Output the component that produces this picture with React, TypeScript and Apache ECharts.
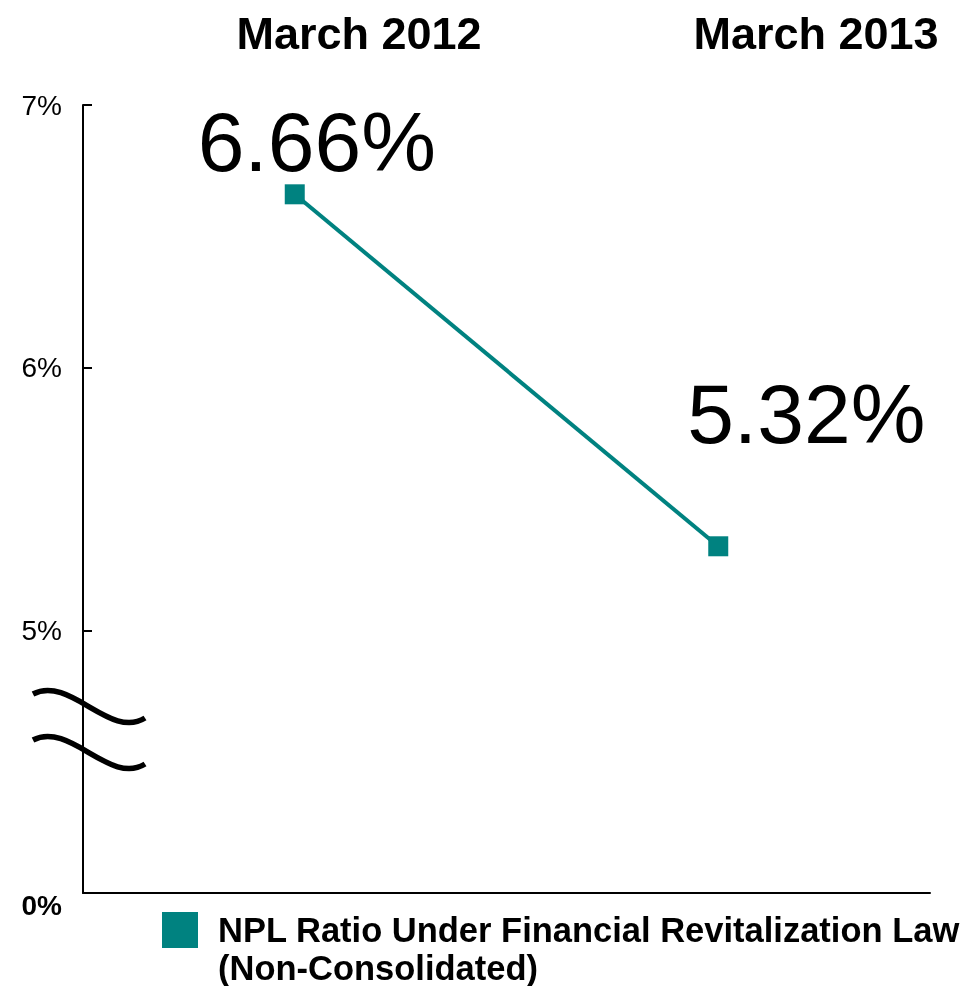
import React, { useEffect, useRef } from "react";
import * as echarts from "echarts";

const categories = ["March 2012", "March 2013"];
const npl = [6.66, 5.32];
const yTicks = [4, 5, 6, 7];
const seriesName = "NPL Ratio Under Financial Revitalization Law\n(Non-Consolidated)";

const TEAL = "#008280";
const FONT = "'Liberation Sans', Arial, sans-serif";
const labelOffsets = [
  [22, -52],
  [88, -132],
];
const headerX = [359, 816];

export default function App() {
  const ref = useRef<HTMLDivElement>(null);
  useEffect(() => {
    if (!ref.current) return;
    const chart = echarts.init(ref.current, undefined, { renderer: "svg" });
    const wave = (dy: number) => ({
      type: "bezierCurve",
      shape: { x1: 33, y1: 694 + dy, cpx1: 70, cpy1: 675 + dy, cpx2: 110, cpy2: 740 + dy, x2: 145, y2: 718 + dy },
      style: { stroke: "#000", lineWidth: 5.5, fill: null },
      z: 10,
    });
    chart.setOption({
      animation: false,
      textStyle: { fontFamily: FONT },
      grid: { left: 83, right: 34, top: 105, bottom: 93, containLabel: false },
      xAxis: {
        type: "category",
        data: categories,
        boundaryGap: true,
        axisLine: { lineStyle: { color: "#000", width: 2 } },
        axisTick: { inside: true, length: 9, lineStyle: { color: "#000", width: 2 } },
        axisLabel: { show: false },
      },
      yAxis: {
        type: "value",
        min: yTicks[0],
        max: yTicks[yTicks.length - 1],
        interval: 1,
        splitLine: { show: false },
        axisLine: { show: true, lineStyle: { color: "#000", width: 2 } },
        axisTick: { show: true, inside: true, length: 9, lineStyle: { color: "#000", width: 2 } },
        axisLabel: {
          fontSize: 28,
          color: "#000",
          fontFamily: FONT,
          margin: 21,
          formatter: (v: number) => (v === yTicks[0] ? "{b|0%}" : v + "%"),
          rich: {
            b: { fontWeight: "bold", fontSize: 28, color: "#000", fontFamily: FONT, padding: [24, 0, 0, 0] },
          },
        },
      },
      series: [
        {
          name: seriesName,
          type: "line",
          symbol: "rect",
          symbolSize: 20,
          itemStyle: { color: TEAL },
          lineStyle: { color: TEAL, width: 4 },
          data: npl.map((v, i) => ({
            value: v,
            label: {
              show: true,
              position: [10 + labelOffsets[i][0], 10 + labelOffsets[i][1]],
              align: "center",
              verticalAlign: "middle",
              fontSize: 84,
              color: "#000",
              fontFamily: FONT,
              formatter: (p: any) => p.value.toFixed(2) + "%",
            },
          })),
        },
      ],
      graphic: [
        ...categories.map((c, i) => ({
          type: "text",
          x: headerX[i],
          y: 33,
          style: { text: c, fill: "#000", font: `bold 45px ${FONT}`, align: "center", verticalAlign: "middle" },
        })),
        wave(0),
        wave(46),
        { type: "rect", shape: { x: 162, y: 912, width: 36, height: 36 }, style: { fill: TEAL } },
        {
          type: "text",
          x: 218,
          y: 911,
          style: {
            text: seriesName,
            fill: "#000",
            font: `bold 34.5px ${FONT}`,
            lineHeight: 38,
            align: "left",
            verticalAlign: "top",
          },
        },
      ],
    });
    return () => chart.dispose();
  }, []);
  return <div ref={ref} style={{ position: "fixed", left: 0, top: 0, width: 964, height: 986 }} />;
}
